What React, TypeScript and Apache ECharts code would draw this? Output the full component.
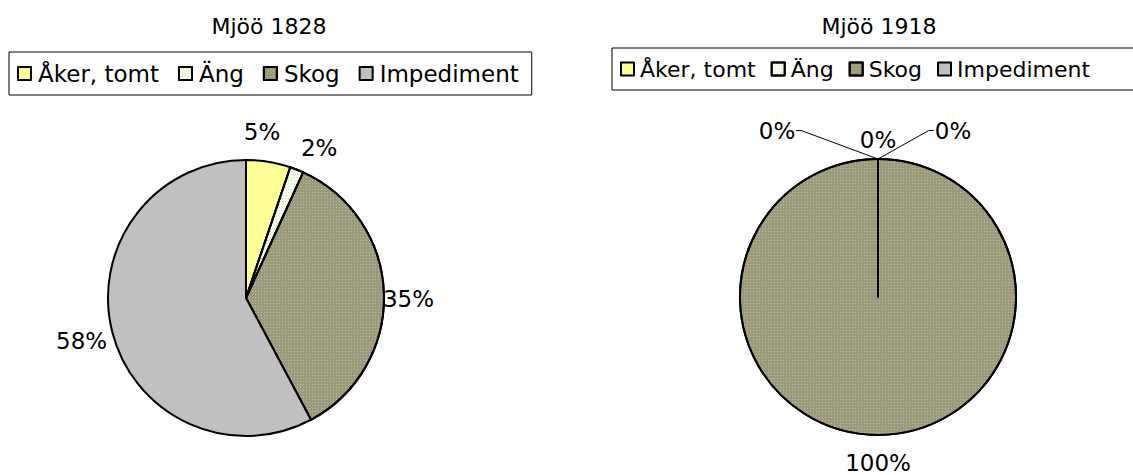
import React, { useEffect, useRef } from 'react';
import * as echarts from 'echarts';

const categories = ['Åker, tomt', 'Äng', 'Skog', 'Impediment'];
const values1828 = [5.2, 1.6, 35.4, 57.8];
const values1918 = [0, 0, 100, 0];
const titles = ['Mjöö 1828', 'Mjöö 1918'];

const colors = ['#ffff99', '#f8fbee', '#9b9a7c', '#c0c0c0'];
const FONT = 'DejaVu Sans';

function makeLabelLayout(values: number[], cx: number, cy: number, r: number, gap: number, nudges: number[][], lineIdx: number[]) {
  const total = values.reduce((a, b) => a + b, 0);
  const mids: number[] = [];
  let acc = 0;
  values.forEach((v) => {
    mids.push(((acc + v / 2) / total) * 2 * Math.PI);
    acc += v;
  });
  return (params: any) => {
    const i = params.dataIndex;
    const th = mids[i];
    const ux = Math.sin(th);
    const uy = -Math.cos(th);
    const w = params.labelRect.width / 2;
    const h = params.labelRect.height / 2;
    const x = cx + ux * (r + gap) + ux * w + nudges[i][0];
    const y = cy + uy * (r + gap) + uy * h + nudges[i][1];
    const res: any = { x, y, align: 'center', verticalAlign: 'middle' };
    if (lineIdx.includes(i)) {
      const ax = cx + ux * r;
      const ay = cy + uy * r;
      const side = x < ax ? 1 : -1;
      const ex = x + side * (w + 1);
      res.labelLinePoints = [[ax, ay], [ex + side * 5, y], [ex, y]];
    }
    return res;
  };
}

const decals: any[] = [
  null,
  { symbol: 'rect', symbolSize: 1, dashArrayX: [1, 2], dashArrayY: [1, 2], color: 'rgba(200,225,170,0.9)' },
  { symbol: 'rect', symbolSize: 1, dashArrayX: [1, 2], dashArrayY: [1, 2], color: 'rgba(220,220,200,0.5)' },
  null,
];

function buildData(values: number[], noLine: number[]) {
  return values.map((v, i) => {
    const item: any = {
      name: categories[i],
      value: v,
      itemStyle: { color: colors[i] },
    };
    if (decals[i]) item.itemStyle.decal = decals[i];
    if (noLine.includes(i)) item.labelLine = { show: false };
    return item;
  });
}

export default function App() {
  const ref = useRef<HTMLDivElement>(null);
  useEffect(() => {
    if (!ref.current) return;
    const chart = echarts.init(ref.current, null, { renderer: 'svg' });
    const R = 138;
    const c1 = [246, 298];
    const c2 = [878, 297];
    const legendCommon: any = {
      orient: 'horizontal',
      icon: 'rect',
      itemWidth: 13,
      itemHeight: 13,
      borderColor: '#000',
      borderWidth: 1,
      backgroundColor: '#fff',
      itemStyle: { borderColor: '#000', borderWidth: 2 },
      data: categories,
      selectedMode: false,
    };
    const labelCommon: any = {
      show: true,
      position: 'outside',
      color: '#000',
      fontFamily: FONT,
      fontSize: 23,
      formatter: (p: any) => Math.round(p.percent) + '%',
    };
    const titleStyle = { fontFamily: FONT, fontSize: 22, fontWeight: 'normal', color: '#000' };
    chart.setOption({
      animation: false,
      backgroundColor: '#fff',
      title: [
        { text: titles[0], left: 264, top: 10, textAlign: 'center', textStyle: titleStyle },
        { text: titles[1], left: 874, top: 10, textAlign: 'center', textStyle: titleStyle },
      ],
      legend: [
        {
          ...legendCommon,
          left: 9,
          top: 52,
          padding: [10, 13, 10, 8],
          itemGap: 19,
          textStyle: { fontFamily: FONT, fontSize: 23, color: '#000', padding: [0, 0, 0, 2] },
        },
        {
          ...legendCommon,
          left: 612,
          top: 48,
          width: 800,
          padding: [10, 90, 10, 8],
          itemGap: 15,
          textStyle: { fontFamily: FONT, fontSize: 22, color: '#000', padding: [0, 0, 0, 1] },
        },
      ],
      series: [
        {
          type: 'pie',
          center: c1,
          radius: R,
          startAngle: 90,
          clockwise: true,
          avoidLabelOverlap: false,
          percentPrecision: 2,
          itemStyle: { borderColor: '#000', borderWidth: 2 },
          label: labelCommon,
          labelLine: { show: false },
          emphasis: { disabled: true },
          labelLayout: makeLabelLayout(values1828, c1[0], c1[1], R, 10, [[-11, -9], [12, -2], [-11, 6], [4, 4]], []),
          data: buildData(values1828, [0, 1, 2, 3]),
        },
        {
          type: 'pie',
          center: c2,
          radius: R,
          startAngle: 90,
          clockwise: true,
          avoidLabelOverlap: false,
          percentPrecision: 2,
          itemStyle: { borderColor: '#000', borderWidth: 2 },
          label: labelCommon,
          labelLine: { show: true, lineStyle: { color: '#000', width: 1 } },
          emphasis: { disabled: true },
          labelLayout: makeLabelLayout(values1918, c2[0], c2[1], R, 10, [[-101, -7], [0, 2], [0, 6], [75, -7]], [0, 3]),
          data: buildData(values1918, [1, 2]),
        },
      ],
    });
    return () => chart.dispose();
  }, []);
  return (
    <div style={{ position: 'absolute', left: 0, top: 0, width: 1133, height: 475, background: '#fff' }}>
      <div ref={ref} style={{ width: 1133, height: 475 }} />
    </div>
  );
}
